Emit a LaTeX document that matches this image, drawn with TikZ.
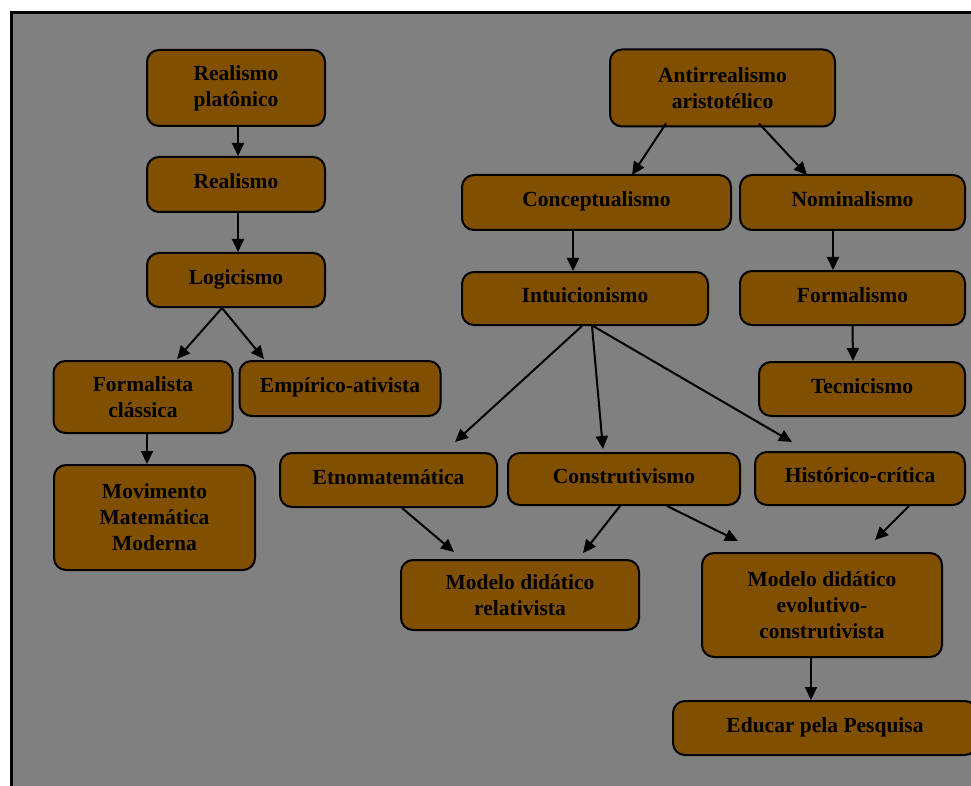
\documentclass[tikz,border=0pt]{standalone}
\usepackage{fontspec}
\setmainfont{Liberation Serif}
\usetikzlibrary{arrows.meta}
\definecolor{boxbrown}{RGB}{128,79,0}
\definecolor{bggray}{RGB}{128,128,128}
\begin{document}
\begin{tikzpicture}[x=1pt,y=-1pt,
  bx/.style={draw=black, line width=2pt, fill=boxbrown, rounded corners=12pt,
    align=center, inner sep=0pt, font=\fontsize{21.5}{26}\selectfont\bfseries,
    text=black},
  one/.style={text height=14pt, text depth=6pt},
  arr/.style={line width=2pt, -{Triangle[length=13pt,width=12pt]}}]
\useasboundingbox (0,0) rectangle (971,786);
\clip (0,0) rectangle (971,786);
\fill[white] (0,0) rectangle (971,786);
\draw[line width=3pt, fill=bggray] (11,13) rectangle (1000,820);

\node[bx, minimum width=178pt, minimum height=76pt] (rp) at (236,88) {Realismo\\platônico};
\node[bx, one, minimum width=178pt, minimum height=55pt] (re) at (236,184.5) {Realismo};
\node[bx, one, minimum width=178pt, minimum height=54pt] (lo) at (236,280) {Logicismo};
\node[bx, minimum width=179pt, minimum height=72pt] (fc) at (143,397) {Formalista\\clássica};
\node[bx, one, minimum width=201pt, minimum height=55pt] (ea) at (340,388.5) {Empírico-ativista};
\node[bx, minimum width=201pt, minimum height=105pt] (mmm) at (154.5,517.5) {Movimento\\Matemática\\Moderna};

\node[bx, minimum width=225pt, minimum height=77pt] (aa) at (722.5,88) {Antirrealismo\\aristotélico};
\node[bx, one, minimum width=269pt, minimum height=55pt] (co) at (596.5,202.5) {Conceptualismo};
\node[bx, one, minimum width=225pt, minimum height=55pt] (no) at (852.5,202.5) {Nominalismo};
\node[bx, one, minimum width=246pt, minimum height=53pt] (in) at (585,298.5) {Intuicionismo};
\node[bx, one, minimum width=225pt, minimum height=54pt] (fo) at (852.5,298) {Formalismo};
\node[bx, one, minimum width=206pt, minimum height=54pt] (te) at (862,389) {Tecnicismo};

\node[bx, one, minimum width=217pt, minimum height=54pt] (et) at (388.5,480) {Etnomatemática};
\node[bx, one, minimum width=232pt, minimum height=52pt] (cs) at (624,479) {Construtivismo};
\node[bx, one, minimum width=210pt, minimum height=53pt] (hc) at (860,478.5) {Histórico-crítica};
\node[bx, minimum width=238pt, minimum height=70pt] (mdr) at (520,595) {Modelo didático\\relativista};
\node[bx, minimum width=240pt, minimum height=104pt] (mde) at (822,605) {Modelo didático\\evolutivo-\\construtivista};
\node[bx, one, minimum width=304pt, minimum height=54pt] (ep) at (825,728) {Educar pela Pesquisa};

\draw[arr] ([xshift=2pt]rp.south) -- ([xshift=2pt]re.north);
\draw[arr] ([xshift=2pt]re.south) -- ([xshift=2pt]lo.north);
\draw[arr] ([xshift=-14pt]lo.south) -- ([xshift=34pt,yshift=1pt]fc.north);
\draw[arr] ([xshift=-14pt]lo.south) -- ([xshift=-76pt,yshift=1pt]ea.north);
\draw[arr] ([xshift=4pt]fc.south) -- ([xshift=-7.5pt]mmm.north);

\draw[arr] ([xshift=-56.5pt,yshift=4pt]aa.south) -- ([xshift=35.5pt,yshift=-1pt]co.north);
\draw[arr] ([xshift=36.5pt,yshift=4pt]aa.south) -- ([xshift=-45.5pt,yshift=-1pt]no.north);
\draw[arr] ([xshift=-23.5pt]co.south) -- ([xshift=-12pt]in.north);
\draw[arr] ([xshift=-19.5pt]no.south) -- ([xshift=-19.5pt]fo.north);
\draw[arr] (fo.south) -- ([xshift=-9pt]te.north);

\draw[arr] ([xshift=-3pt]in.south) -- ([xshift=66.5pt,yshift=10pt]et.north);
\draw[arr] ([xshift=7pt]in.south) -- ([xshift=-21pt,yshift=3pt]cs.north);
\draw[arr] ([xshift=8pt]in.south) -- ([xshift=-68pt,yshift=9pt]hc.north);
\draw[arr] ([xshift=13.5pt]et.south) -- ([xshift=-66pt,yshift=7pt]mdr.north);
\draw[arr] ([xshift=-4pt]cs.south) -- ([xshift=63pt,yshift=6pt]mdr.north);
\draw[arr] ([xshift=43pt]cs.south) -- ([xshift=-84pt,yshift=11pt]mde.north);
\draw[arr] ([xshift=49pt]hc.south) -- ([xshift=53pt,yshift=12pt]mde.north);
\draw[arr] ([xshift=-11pt]mde.south) -- ([xshift=-14pt]ep.north);
\end{tikzpicture}
\end{document}
